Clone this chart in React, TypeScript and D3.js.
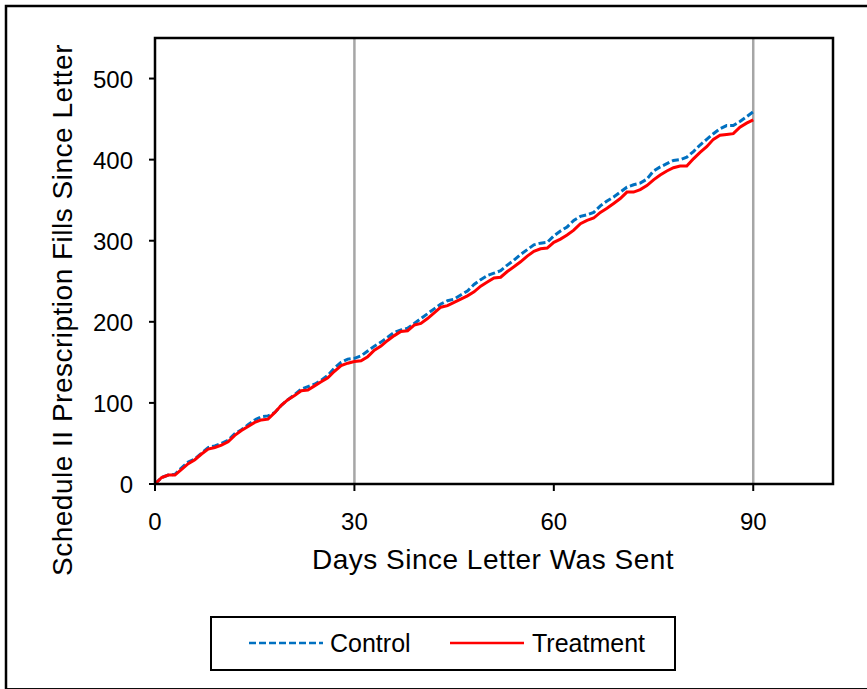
import React from "react";
import * as d3 from "d3";

const days: number[] = Array.from({ length: 91 }, (_, i) => i);
const treatment: number[] = [
  0, 8, 11, 11, 18, 25, 30, 37, 43, 45, 48, 52, 60, 66, 71, 76, 79, 80, 88, 97,
  104, 109, 115, 116, 121, 126, 131, 139, 146, 149, 151, 152, 157, 165, 170, 177, 183, 188, 189, 196,
  198, 204, 211, 218, 220, 224, 228, 232, 237, 244, 249, 254, 255, 262, 268, 274, 281, 287, 290, 291,
  298, 302, 307, 313, 321, 325, 328, 335, 340, 346, 352, 360, 360, 363, 368, 375, 381, 386, 390, 392,
  392, 401, 409, 416, 425, 430, 431, 432, 440, 445, 449,
];
const control: number[] = [
  0, 8, 11, 12, 20, 27, 31, 38, 45, 47, 50, 54, 62, 67, 73, 79, 83, 84, 88, 97,
  104, 110, 117, 120, 123, 128, 134, 143, 150, 154, 155, 158, 164, 170, 175, 181, 187, 190, 192, 198,
  204, 210, 216, 222, 226, 228, 233, 238, 246, 252, 257, 260, 263, 270, 276, 283, 289, 295, 297, 298,
  306, 312, 317, 325, 330, 332, 335, 343, 349, 354, 360, 366, 369, 371, 376, 386, 391, 395, 399, 400,
  403, 410, 418, 425, 432, 438, 442, 442, 447, 453, 459,
];
const xTicks: number[] = [0, 30, 60, 90];
const yTicks: number[] = [0, 100, 200, 300, 400, 500];
const gridDays: number[] = [30, 90];
const xTitle = "Days Since Letter Was Sent";
const yTitle = "Schedule II Prescription Fills Since Letter";
const seriesNames: string[] = ["Control", "Treatment"];

export default function App() {
  const W = 867, H = 689;
  const left = 155, top = 38, right = 833, bottom = 484;
  const x = d3.scaleLinear().domain([0, 102]).range([left, right]);
  const y = d3.scaleLinear().domain([0, 550]).range([bottom, top]);
  const line = d3
    .line<number>()
    .x((_, i) => x(days[i]))
    .y((d) => y(d));
  const font = "'Liberation Sans', Arial, sans-serif";
  return (
    <svg
      width={W}
      height={H}
      style={{ position: "absolute", left: 0, top: 0, background: "#fff" }}
      fontFamily={font}
    >
      <rect x={6} y={6} width={W + 10} height={689.3 - 6} fill="#fff" stroke="#000" strokeWidth={2.5} />
      {gridDays.map((d) => (
        <line key={d} x1={x(d)} x2={x(d)} y1={top} y2={bottom} stroke="#A6A6A6" strokeWidth={2.5} />
      ))}
      <path d={line(control) || ""} fill="none" stroke="#0070C0" strokeWidth={3} strokeDasharray="7,3" />
      <path d={line(treatment) || ""} fill="none" stroke="#FF0000" strokeWidth={3} />
      <rect x={left} y={top} width={right - left} height={bottom - top} fill="none" stroke="#000" strokeWidth={2.5} />
      {yTicks.map((t) => (
        <g key={t}>
          <line x1={left - 6} x2={left} y1={y(t)} y2={y(t)} stroke="#000" strokeWidth={2} />
          <text x={left - 22} y={y(t) + 9} textAnchor="end" fontSize={24}>
            {t}
          </text>
        </g>
      ))}
      {xTicks.map((t) => (
        <g key={t}>
          <line x1={x(t)} x2={x(t)} y1={bottom} y2={bottom + 7} stroke="#000" strokeWidth={2} />
          <text x={x(t)} y={bottom + 46} textAnchor="middle" fontSize={24}>
            {t}
          </text>
        </g>
      ))}
      <text x={493} y={569} textAnchor="middle" fontSize={28} letterSpacing={0.5}>
        {xTitle}
      </text>
      <text
        transform={`translate(72, 310) rotate(-90)`}
        textAnchor="middle"
        fontSize={28}
        letterSpacing={0.5}
      >
        {yTitle}
      </text>
      <rect x={211} y={617} width={464} height={53} fill="#fff" stroke="#000" strokeWidth={2} />
      <line x1={249} x2={323} y1={643} y2={643} stroke="#0070C0" strokeWidth={2.5} strokeDasharray="7,3" />
      <text x={330} y={652} fontSize={25}>
        {seriesNames[0]}
      </text>
      <line x1={450} x2={524} y1={643} y2={643} stroke="#FF0000" strokeWidth={2.5} />
      <text x={532} y={652} fontSize={25}>
        {seriesNames[1]}
      </text>
    </svg>
  );
}
